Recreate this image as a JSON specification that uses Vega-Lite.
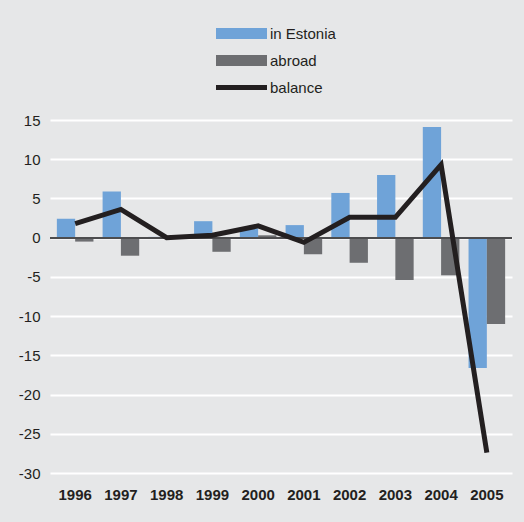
{
  "$schema": "https://vega.github.io/schema/vega-lite/v6.json",
  "width": 462,
  "height": 353,
  "autosize": {"type": "none"},
  "padding": {"left": 50, "top": 120, "right": 12, "bottom": 49},
  "background": "#e6e7e8",
  "config": {"view": {"stroke": null}, "font": "Liberation Sans"},
  "data": {
    "values": [
      {"year": "1996", "series": "in Estonia", "value": 2.4},
      {"year": "1996", "series": "abroad", "value": -0.5},
      {"year": "1996", "series": "balance", "value": 1.8},
      {"year": "1997", "series": "in Estonia", "value": 5.9},
      {"year": "1997", "series": "abroad", "value": -2.3},
      {"year": "1997", "series": "balance", "value": 3.6},
      {"year": "1998", "series": "in Estonia", "value": 0.1},
      {"year": "1998", "series": "abroad", "value": -0.1},
      {"year": "1998", "series": "balance", "value": 0.0},
      {"year": "1999", "series": "in Estonia", "value": 2.1},
      {"year": "1999", "series": "abroad", "value": -1.8},
      {"year": "1999", "series": "balance", "value": 0.3},
      {"year": "2000", "series": "in Estonia", "value": 1.2},
      {"year": "2000", "series": "abroad", "value": 0.3},
      {"year": "2000", "series": "balance", "value": 1.5},
      {"year": "2001", "series": "in Estonia", "value": 1.6},
      {"year": "2001", "series": "abroad", "value": -2.1},
      {"year": "2001", "series": "balance", "value": -0.6},
      {"year": "2002", "series": "in Estonia", "value": 5.7},
      {"year": "2002", "series": "abroad", "value": -3.2},
      {"year": "2002", "series": "balance", "value": 2.6},
      {"year": "2003", "series": "in Estonia", "value": 8.0},
      {"year": "2003", "series": "abroad", "value": -5.4},
      {"year": "2003", "series": "balance", "value": 2.6},
      {"year": "2004", "series": "in Estonia", "value": 14.1},
      {"year": "2004", "series": "abroad", "value": -4.8},
      {"year": "2004", "series": "balance", "value": 9.3},
      {"year": "2005", "series": "in Estonia", "value": -16.6},
      {"year": "2005", "series": "abroad", "value": -11.0},
      {"year": "2005", "series": "balance", "value": -27.4}
    ]
  },
  "encoding": {
    "x": {
      "field": "year",
      "type": "ordinal",
      "scale": {"paddingInner": 0.2, "paddingOuter": 0.15},
      "axis": {
        "title": null,
        "labelAngle": 0,
        "labelFontWeight": "bold",
        "labelFontSize": 15,
        "labelColor": "#231f20",
        "domain": false,
        "ticks": false,
        "grid": false,
        "labelPadding": 14
      }
    },
    "y": {
      "field": "value",
      "type": "quantitative",
      "scale": {"domain": [-30, 15], "nice": false},
      "axis": {
        "title": null,
        "values": [-30, -25, -20, -15, -10, -5, 0, 5, 10, 15],
        "labelOverlap": false,
        "labelExpr": "'' + datum.value",
        "grid": true,
        "gridColor": "#ffffff",
        "gridWidth": 2,
        "domain": false,
        "ticks": false,
        "labelPadding": 10,
        "labelFontSize": 15,
        "labelColor": "#231f20"
      }
    }
  },
  "layer": [
    {
      "transform": [{"filter": "datum.series !== 'balance'"}],
      "mark": {"type": "bar"},
      "encoding": {
        "xOffset": {"field": "series", "type": "nominal", "scale": {"domain": ["in Estonia", "abroad"]}},
        "color": {
          "field": "series",
          "type": "nominal",
          "scale": {"domain": ["in Estonia", "abroad", "balance"], "range": ["#6fa3d8", "#6d6e71", "#231f20"]},
          "legend": {
            "orient": "none",
            "legendX": 166,
            "legendY": -96.5,
            "title": null,
            "direction": "vertical",
            "symbolSize": 400,
            "labelFontSize": 15,
            "labelColor": "#231f20",
            "labelOffset": 34,
            "rowPadding": 9,
            "padding": 0,
            "symbolType": "M-1,-0.55H4.1V0.55H-1Z",
            "symbolStrokeWidth": 0,
            "symbolOpacity": 1,
            "encode": {
              "symbols": {
                "update": {
                  "shape": {"signal": "datum.value === 'balance' ? 'M-1,-0.25H4.1V0.25H-1Z' : 'M-1,-0.55H4.1V0.55H-1Z'"}
                }
              }
            }
          }
        }
      }
    },
    {
      "mark": {"type": "rule", "color": "#4d4d4f", "strokeWidth": 1.5},
      "encoding": {"y": {"datum": 0, "type": "quantitative"}, "x": {}}
    },
    {
      "transform": [{"filter": "datum.series === 'balance'"}],
      "mark": {"type": "line", "color": "#231f20", "strokeWidth": 5},
      "encoding": {}
    }
  ]
}
